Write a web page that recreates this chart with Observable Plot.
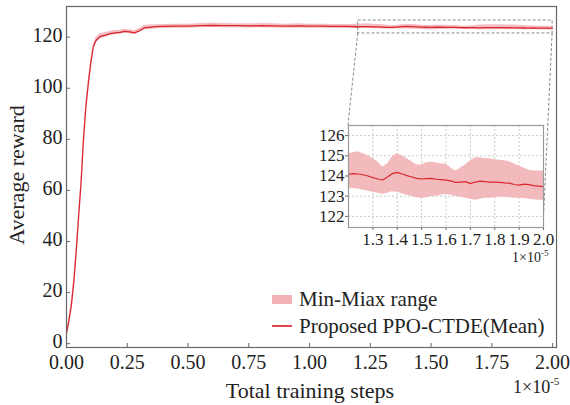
<!DOCTYPE html>
<html><head><meta charset="utf-8">
<script src="https://cdn.jsdelivr.net/npm/d3@7"></script>
<script src="https://cdn.jsdelivr.net/npm/@observablehq/plot@0.6"></script>
<style>
body{margin:0;background:#fff;}
#wrap{position:relative;width:570px;height:405px;font-family:"Liberation Serif","Times New Roman",serif;color:#222;}
#wrap svg{position:absolute;}
.lbl{position:absolute;white-space:nowrap;line-height:1;}
</style></head><body><div id="wrap"></div>
<script>
// ---- data ----
const steps = [0.00,0.01,0.02,0.03,0.04,0.05,0.06,0.07,0.08,0.09,0.10,0.11,0.12,0.13,0.14,0.16,0.18,0.20,0.22,0.24,0.26,0.28,0.30,0.32,0.34,0.37,0.40,0.45,0.50,0.55,0.60,0.65,0.70,0.75,0.80,0.85,0.90,0.95,1.00,1.05,1.10,1.15,
  1.20,1.22,1.24,1.26,1.28,1.30,1.32,1.34,1.36,1.38,1.40,1.42,1.44,1.46,1.48,1.50,1.52,1.54,1.56,1.58,1.60,1.62,1.64,1.66,1.68,1.70,1.72,1.74,1.76,1.78,1.80,1.82,1.84,1.86,1.88,1.90,1.92,1.94,1.96,1.98,2.00];
const meanReward = [4,9,15,24,36,50,63,80,93,102,110,116,118.5,119.5,120.3,120.8,121.4,121.7,121.9,122.3,122.1,121.7,122.5,123.6,123.8,124.1,124.2,124.3,124.3,124.5,124.6,124.5,124.5,124.4,124.5,124.4,124.3,124.4,124.3,124.3,124.2,124.2,
  124.08,124.12,124.10,124.06,124.00,123.92,123.85,123.80,123.95,124.12,124.18,124.10,124.02,123.95,123.88,123.85,123.87,123.88,123.84,123.82,123.80,123.76,123.68,123.70,123.72,123.62,123.70,123.75,123.72,123.70,123.70,123.68,123.66,123.65,123.58,123.55,123.60,123.57,123.52,123.50,123.47];
const minReward = [3,8,14,22.5,34.5,48.5,61.5,78.5,91.8,101,109,115,117.6,118.6,119.5,120.0,120.6,120.9,121.1,121.6,121.3,121.0,121.7,122.8,123.0,123.3,123.4,123.5,123.5,123.7,123.8,123.7,123.7,123.6,123.7,123.6,123.5,123.6,123.5,123.5,123.4,123.4,
  123.40,123.38,123.35,123.30,123.25,123.20,123.15,123.10,123.15,123.22,123.20,123.12,123.05,122.98,122.92,122.90,122.92,122.98,123.00,123.05,123.10,123.05,123.00,122.95,122.90,122.85,122.80,122.85,122.90,122.90,122.92,122.95,122.95,122.93,122.90,122.90,122.88,122.85,122.83,122.80,122.80];
const maxReward = [5,10,16.5,25.5,37.5,51.5,64.5,81.5,94.3,103.2,111,117,119.6,120.7,121.3,121.8,122.3,122.6,122.7,123.1,122.9,122.5,123.4,124.6,124.8,124.9,125.0,125.1,125.1,125.3,125.4,125.3,125.2,125.2,125.3,125.2,125.1,125.2,125.1,125.1,125.0,125.0,
  125.10,125.15,125.20,125.10,125.00,124.85,124.70,124.45,124.60,124.95,125.10,125.00,124.85,124.70,124.55,124.55,124.65,124.68,124.65,124.60,124.60,124.40,124.25,124.40,124.55,124.75,124.90,124.90,124.85,124.85,124.80,124.78,124.75,124.70,124.60,124.50,124.40,124.28,124.25,124.25,124.25];
const xTicks = [0,0.25,0.5,0.75,1.0,1.25,1.5,1.75,2.0];
const yTicks = [0,20,40,60,80,100,120];
const insetXTicks = [1.3,1.4,1.5,1.6,1.7,1.8,1.9,2.0];
const insetYTicks = [122,123,124,125,126];
const insetXDomain = [1.2,2.0];
const insetYDomain = [121.45,126.5];
const seriesNames = ["Min-Miax range","Proposed PPO-CTDE(Mean)"];

// ---- build ----
const FONT = '"Liberation Serif","Times New Roman",serif';
const BAND = "#f2b2b6", RED = "#d9272e";
const rows = steps.map((s,i)=>({s, mean:meanReward[i], lo:minReward[i], hi:maxReward[i]}));
const insetRows = rows.filter(d=>d.s>=insetXDomain[0]-1e-9);
const wrap = document.getElementById("wrap");

const main = Plot.plot({
  width:570, height:405, marginLeft:66, marginRight:14, marginTop:6, marginBottom:58,
  style:{fontFamily:FONT, fontSize:"20px", color:"#222", background:"transparent", overflow:"visible"},
  x:{domain:[0,2.016]},
  y:{domain:[-1.5,132]},
  marks:[
    Plot.areaY(rows,{x:"s", y1:"lo", y2:"hi", fill:BAND, fillOpacity:0.85, curve:"linear"}),
    Plot.lineY(rows,{x:"s", y:"mean", stroke:RED, strokeWidth:1.3}),
    Plot.rect([{x1:insetXDomain[0],x2:insetXDomain[1],y1:insetYDomain[0],y2:insetYDomain[1]}],
      {x1:"x1",x2:"x2",y1:"y1",y2:"y2", fill:"none", stroke:"#888", strokeWidth:1, strokeDasharray:"3,2"}),
    Plot.axisX({ticks:xTicks, tickSize:0, tickPadding:7, tickFormat:d3.format(".2f"), label:null}),
    Plot.axisX({ticks:xTicks, tickSize:-4, text:null, label:null, stroke:"#666"}),
    Plot.axisY({ticks:yTicks, tickSize:0, tickPadding:4, dy:-2, label:null}),
    Plot.axisY({ticks:yTicks, tickSize:-4, text:null, label:null, stroke:"#666"}),
    Plot.frame({stroke:"#666", strokeWidth:1.2})
  ]
});
main.style.left="0px"; main.style.top="0px";
wrap.appendChild(main);

// inset layout
const IN = {left:315, top:118, width:250, height:150, ml:33, mt:7, mr:22, mb:41};
const inset = Plot.plot({
  width:IN.width, height:IN.height, marginLeft:IN.ml, marginTop:IN.mt, marginRight:IN.mr, marginBottom:IN.mb,
  style:{fontFamily:FONT, fontSize:"17px", color:"#222", background:"transparent", overflow:"visible"},
  x:{domain:insetXDomain},
  y:{domain:insetYDomain},
  marks:[
    Plot.frame({fill:"white", stroke:"none"}),
    Plot.gridX(insetXTicks,{stroke:"#c8c8c8", strokeOpacity:1, strokeDasharray:"2,2"}),
    Plot.gridY(insetYTicks,{stroke:"#c8c8c8", strokeOpacity:1, strokeDasharray:"2,2"}),
    Plot.areaY(insetRows,{x:"s", y1:"lo", y2:"hi", fill:BAND, fillOpacity:0.9, clip:true}),
    Plot.lineY(insetRows,{x:"s", y:"mean", stroke:RED, strokeWidth:1.2, clip:true}),
    Plot.axisX({ticks:insetXTicks, tickSize:3, tickPadding:2, tickFormat:d3.format(".1f"), label:null, stroke:"#666"}),
    Plot.axisY({ticks:insetYTicks, tickSize:3, tickPadding:1, tickFormat:d3.format("d"), label:null, stroke:"#666"}),
    Plot.frame({stroke:"#999", strokeWidth:1.2})
  ]
});

// connectors (computed from main scales and inset layout)
const sx = main.scale("x"), sy = main.scale("y");
const rx1 = sx.apply(insetXDomain[0]), rx2 = sx.apply(insetXDomain[1]), ryb = sy.apply(insetYDomain[0]);
const iL = IN.left+IN.ml, iT = IN.top+IN.mt, iR = IN.left+IN.width-IN.mr, iB = IN.top+IN.height-IN.mb;
const ns = "http://www.w3.org/2000/svg";
const conn = document.createElementNS(ns,"svg");
conn.setAttribute("width",570); conn.setAttribute("height",405);
conn.style.left="0px"; conn.style.top="0px";
[[rx1,ryb,iL,iT],[rx2,ryb,iR,iB]].forEach(([a,b,c,d])=>{
  const l=document.createElementNS(ns,"line");
  l.setAttribute("x1",a);l.setAttribute("y1",b);l.setAttribute("x2",c);l.setAttribute("y2",d);
  l.setAttribute("stroke","#888");l.setAttribute("stroke-dasharray","3,2");l.setAttribute("stroke-width","1");
  conn.appendChild(l);
});
wrap.appendChild(conn);
inset.style.left=IN.left+"px"; inset.style.top=IN.top+"px";
wrap.appendChild(inset);

// labels
function addLabel(html, css){const d=document.createElement("div");d.className="lbl";d.innerHTML=html;Object.assign(d.style,css);wrap.appendChild(d);return d;}
addLabel("Average reward",{left:"17px",top:"175px",fontSize:"22px",transform:"translate(-50%,-50%) rotate(-90deg)"});
addLabel("Total training steps",{left:"310px",top:"391px",fontSize:"22px",transform:"translate(-50%,-50%)"});
addLabel("1×10<sup style='font-size:11px;vertical-align:8px'>-5</sup>",{left:"513px",top:"376px",fontSize:"18px"});
addLabel("1×10<sup style='font-size:9px;vertical-align:6px'>-5</sup>",{left:"512px",top:"249px",fontSize:"14px"});

// legend
const leg = addLabel("",{left:"272px",top:"288px",fontSize:"21px"});
leg.innerHTML =
  `<div style="display:flex;align-items:center;height:22px"><span style="display:inline-block;width:20px;height:9px;background:${BAND};margin-right:7px"></span>${seriesNames[0]}</div>`+
  `<div style="display:flex;align-items:center;height:22px;margin-top:5px"><span style="display:inline-block;width:20px;height:1.6px;background:#e0474d;margin-right:7px"></span>${seriesNames[1]}</div>`;
</script>
</body></html>
